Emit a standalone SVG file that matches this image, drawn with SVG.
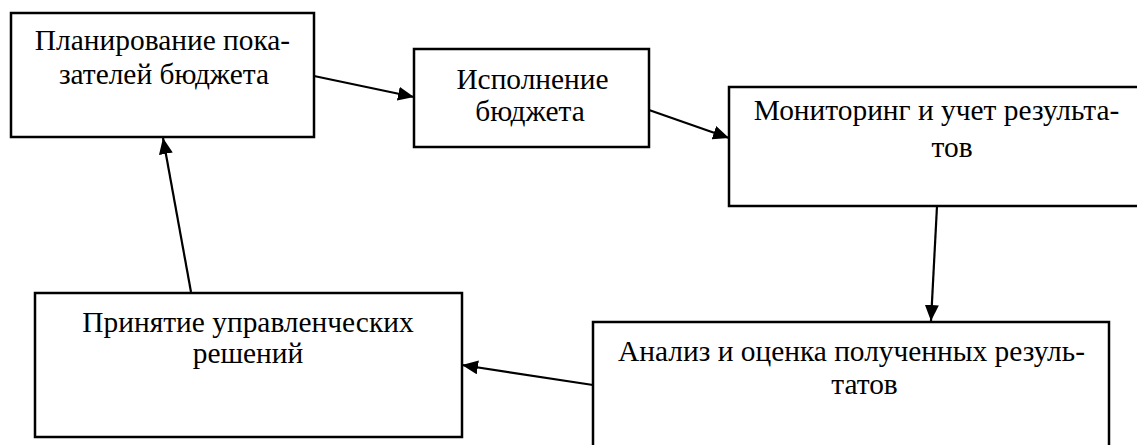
<svg xmlns="http://www.w3.org/2000/svg" width="1137" height="445" viewBox="0 0 1137 445">
<style>
.box{fill:#fff;stroke:#000;stroke-width:2.5}
.t{font-family:"Liberation Serif","Times New Roman",serif;font-size:29.4px;fill:#000;text-anchor:middle}
.c{stroke:#000;stroke-width:2.2;fill:none}
</style>
<defs>
<marker id="ah" viewBox="0 0 16 14" refX="16" refY="7" markerWidth="16" markerHeight="14" markerUnits="userSpaceOnUse" orient="auto">
<path d="M0,0 L16,7 L0,14 z" fill="#000"/>
</marker>
</defs>
<rect width="1137" height="445" fill="#fff"/>
<g id="n1">
<rect class="box" x="11" y="13" width="303" height="124"/>
<text class="t" x="162.5" y="50">Планирование пока-</text>
<text class="t" x="164" y="84">зателей бюджета</text>
</g>
<g id="n2">
<rect class="box" x="414" y="49" width="235" height="98"/>
<text class="t" x="532.5" y="89">Исполнение</text>
<text class="t" x="530" y="121">бюджета</text>
</g>
<g id="n3">
<rect class="box" x="729" y="87" width="430" height="119"/>
<text class="t" x="936.5" y="120">Мониторинг и учет результа-</text>
<text class="t" x="952" y="157">тов</text>
</g>
<g id="n4">
<rect class="box" x="35" y="293" width="427" height="144"/>
<text class="t" x="248" y="332">Принятие управленческих</text>
<text class="t" x="248" y="363">решений</text>
</g>
<g id="n5">
<rect class="box" x="593" y="322" width="516" height="140"/>
<text class="t" x="851.5" y="361">Анализ и оценка полученных резуль-</text>
<text class="t" x="864.5" y="394">татов</text>
</g>
<g id="connectors">
<line class="c" x1="314" y1="76" x2="414" y2="97" marker-end="url(#ah)"/>
<line class="c" x1="649" y1="110" x2="729" y2="138" marker-end="url(#ah)"/>
<line class="c" x1="937" y1="206" x2="931" y2="321" marker-end="url(#ah)"/>
<line class="c" x1="593" y1="385" x2="462" y2="365" marker-end="url(#ah)"/>
<line class="c" x1="191" y1="292" x2="163" y2="138" marker-end="url(#ah)"/>
</g>
</svg>
